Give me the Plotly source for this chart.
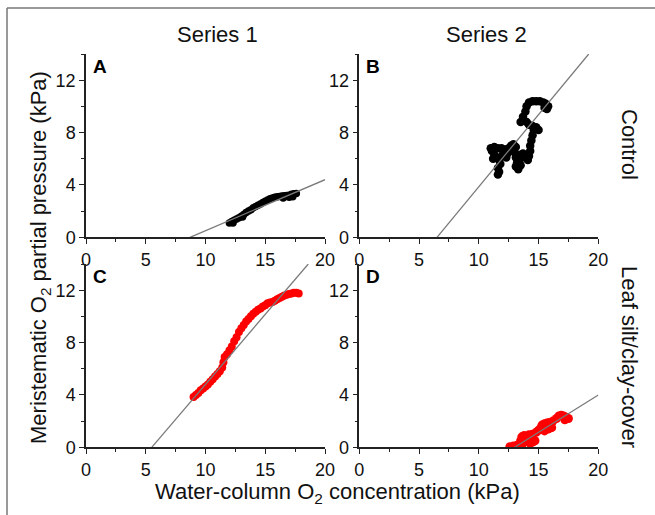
import plotly.graph_objects as go

W, H = 655, 515

# ---------------- data ----------------
# Panel A (Series 1, Control) - black
a_x = [12.0, 12.2, 12.4, 12.6, 12.8, 13.0, 13.2, 13.4, 13.6, 13.8, 14.0, 14.2, 14.4, 14.6,
       14.8, 15.0, 15.2, 15.4, 15.6, 15.8, 16.0, 16.2, 16.4, 16.6, 16.8, 17.0, 17.2, 17.4,
       17.6, 16.5, 17.0, 17.3, 12.3, 13.1]
a_y = [1.1, 1.2, 1.3, 1.4, 1.5, 1.6, 1.75, 1.9, 2.0, 2.1, 2.25, 2.35, 2.45, 2.55,
       2.65, 2.75, 2.85, 2.95, 3.0, 3.05, 3.1, 3.12, 3.15, 3.18, 3.2, 3.22, 3.28, 3.32,
       3.35, 3.0, 3.05, 3.1, 1.1, 1.55]

# Panel B (Series 2, Control) - black
b_x = [11.6, 11.7, 11.6, 11.8, 11.7, 11.5, 11.3, 11.1, 11.0, 11.3, 11.6, 11.9, 12.2, 12.5,
       12.4, 12.3, 12.5, 12.7, 12.9, 13.1, 13.0, 13.1, 13.2, 13.1, 13.3, 13.5, 13.4, 13.5,
       13.7, 13.9, 14.1, 14.2, 14.3, 14.3, 14.4, 14.5, 14.6, 14.5, 14.2, 14.0, 13.7, 13.5,
       13.7, 13.9, 14.0, 14.2, 14.5, 14.8, 15.1, 15.4, 15.6, 15.8, 15.7, 15.5, 14.8, 15.0,
       11.2, 12.0]
b_y = [4.8, 5.0, 5.3, 5.6, 5.9, 6.1, 6.3, 6.6, 6.8, 6.9, 6.8, 6.8, 6.7, 6.8,
       6.4, 6.1, 6.6, 7.0, 7.1, 6.9, 6.5, 6.1, 5.7, 5.4, 5.2, 5.5, 5.9, 6.3,
       6.4, 6.1, 5.9, 6.2, 6.6, 7.0, 7.4, 7.8, 8.2, 8.5, 8.6, 8.8, 8.9, 8.8,
       9.2, 9.6, 10.0, 10.3, 10.4, 10.4, 10.4, 10.3, 10.2, 10.0, 9.8, 9.9, 8.4, 8.2,
       6.0, 6.3]

# Panel C (Series 1, Leaf silt/clay-cover) - red
c_x = [9.0, 9.2, 9.4, 9.6, 9.8, 10.0, 10.2, 10.4, 10.6, 10.8, 11.0, 11.2, 11.4, 11.5,
       11.6, 11.8, 12.0, 12.2, 12.4, 12.6, 12.8, 13.0, 13.2, 13.4, 13.6, 13.8, 14.0, 14.2,
       14.4, 14.6, 14.8, 15.0, 15.2, 15.4, 15.6, 15.8, 16.0, 16.2, 16.4, 16.6, 16.8, 17.0,
       17.2, 17.4, 17.6, 17.8]
c_y = [3.85, 4.0, 4.15, 4.35, 4.5, 4.65, 4.8, 5.0, 5.2, 5.4, 5.6, 5.8, 6.1, 6.5,
       6.9, 7.1, 7.4, 7.7, 8.1, 8.4, 8.8, 9.1, 9.35, 9.6, 9.8, 10.0, 10.2, 10.35,
       10.5, 10.6, 10.75, 10.85, 11.0, 11.05, 11.1, 11.2, 11.3, 11.4, 11.5, 11.6, 11.65, 11.7,
       11.75, 11.8, 11.8, 11.75]

# Panel D (Series 2, Leaf silt/clay-cover) - red
d_x = [12.6, 12.9, 13.2, 13.5, 13.6, 13.8, 14.0, 14.1, 14.3, 14.5, 14.7, 14.2, 14.5, 14.8,
       15.0, 15.2, 15.3, 15.5, 15.7, 15.9, 16.1, 15.8, 15.5, 16.2, 16.5, 16.7, 16.9, 17.1,
       17.3, 17.5, 17.2, 13.9, 13.7]
d_y = [0.05, 0.1, 0.15, 0.5, 0.8, 0.9, 0.85, 0.5, 0.3, 0.4, 0.5, 0.95, 1.0, 1.15,
       1.3, 1.5, 1.7, 1.8, 1.85, 1.9, 1.5, 1.4, 1.25, 2.0, 2.2, 2.4, 2.45, 2.4,
       2.3, 2.2, 2.1, 0.55, 0.3]

# regression line end points (x, y) per panel
fit_a_x, fit_a_y = [8.7, 20.0], [0.0, 4.4]
fit_b_x, fit_b_y = [6.5, 19.2], [0.0, 14.0]
fit_c_x, fit_c_y = [5.5, 18.6], [0.0, 14.0]
fit_d_x, fit_d_y = [13.0, 20.0], [0.0, 4.0]

panel_letters = ["A", "B", "C", "D"]
col_titles = ["Series 1", "Series 2"]
row_titles = ["Control", "Leaf silt/clay-cover"]
x_title = "Water-column O<sub>2</sub> concentration (kPa)"
y_title = "Meristematic O<sub>2</sub> partial pressure (kPa)"
x_ticks = [0, 5, 10, 15, 20]
y_ticks = [0, 4, 8, 12]

# ---------------- layout helpers ----------------
def px_x(p):
    return p / W

def px_y(p):
    return 1 - p / H

col_dom = [[px_x(86), px_x(325)], [px_x(359.3), px_x(598.3)]]
row_dom = [[px_y(237.3), px_y(54)], [px_y(447.3), px_y(264)]]

FONT = "Liberation Sans, Arial, Helvetica, sans-serif"

fig = go.Figure()

panels = [
    (a_x, a_y, fit_a_x, fit_a_y, "black", 7.5),
    (b_x, b_y, fit_b_x, fit_b_y, "black", 8.5),
    (c_x, c_y, fit_c_x, fit_c_y, "#ff0000", 8),
    (d_x, d_y, fit_d_x, fit_d_y, "#ff0000", 9),
]

for i, (xs, ys, fx, fy, col, ms) in enumerate(panels):
    n = i + 1
    xa = "x" if n == 1 else f"x{n}"
    ya = "y" if n == 1 else f"y{n}"
    fig.add_trace(go.Scatter(x=xs, y=ys, mode="markers", xaxis=xa, yaxis=ya,
                             marker=dict(color=col, size=ms, line=dict(width=0)),
                             showlegend=False, hoverinfo="skip"))
    fig.add_trace(go.Scatter(x=fx, y=fy, mode="lines", xaxis=xa, yaxis=ya,
                             line=dict(color="#7a7a7a", width=1.3),
                             showlegend=False, hoverinfo="skip"))
    r, c = divmod(i, 2)
    axis_common = dict(showline=True, linecolor="#222", linewidth=1.5, showgrid=False,
                       zeroline=False, ticks="outside", ticklen=5, tickwidth=1.3,
                       tickcolor="#222", tickfont=dict(family=FONT, size=18, color="#111"),
                       fixedrange=True, automargin=False)
    fig.layout[("xaxis" if n == 1 else f"xaxis{n}")] = dict(
        domain=col_dom[c], anchor=ya, range=[0, 20], tickvals=x_ticks,
        minor=dict(dtick=2.5, tick0=0, ticks="outside", ticklen=3, tickwidth=1.2,
                   tickcolor="#222"),
        **axis_common)
    fig.layout[("yaxis" if n == 1 else f"yaxis{n}")] = dict(
        domain=row_dom[r], anchor=xa, range=[0, 14], tickvals=y_ticks,
        minor=dict(dtick=2, tick0=0, ticks="outside", ticklen=3, tickwidth=1.2,
                   tickcolor="#222"),
        **axis_common)
    fig.add_annotation(text=f"<b>{panel_letters[i]}</b>", xref=f"{xa} domain",
                       yref=f"{ya} domain", x=0.02, y=1.0, xanchor="left",
                       yanchor="top", showarrow=False,
                       font=dict(family=FONT, size=19, color="black"))

ann_font = dict(family=FONT, size=22, color="#111")
fig.add_annotation(text=col_titles[0], x=px_x(217), y=px_y(35), xref="paper", yref="paper",
                   showarrow=False, font=ann_font, xanchor="center", yanchor="middle")
fig.add_annotation(text=col_titles[1], x=px_x(486), y=px_y(35), xref="paper", yref="paper",
                   showarrow=False, font=ann_font, xanchor="center", yanchor="middle")
fig.add_annotation(text=row_titles[0], x=px_x(630), y=px_y(144), xref="paper", yref="paper",
                   showarrow=False, font=ann_font, textangle=90,
                   xanchor="center", yanchor="middle")
fig.add_annotation(text=row_titles[1], x=px_x(630), y=px_y(357), xref="paper", yref="paper",
                   showarrow=False, font=ann_font, textangle=90,
                   xanchor="center", yanchor="middle")
fig.add_annotation(text=x_title, x=px_x(338), y=px_y(493), xref="paper", yref="paper",
                   showarrow=False, font=ann_font, xanchor="center", yanchor="middle")
fig.add_annotation(text=y_title, x=px_x(40), y=px_y(258), xref="paper", yref="paper",
                   showarrow=False, font=ann_font, textangle=-90,
                   xanchor="center", yanchor="middle")

# outer frame lines (top and left)
fig.add_shape(type="line", xref="paper", yref="paper", x0=px_x(7), x1=1.0,
              y0=px_y(8), y1=px_y(8), line=dict(color="#777", width=1.5))
fig.add_shape(type="line", xref="paper", yref="paper", x0=px_x(7), x1=px_x(7),
              y0=0.0, y1=px_y(8), line=dict(color="#777", width=1.5))

fig.update_layout(width=W, height=H, autosize=False,
                  margin=dict(l=0, r=0, t=0, b=0),
                  paper_bgcolor="white", plot_bgcolor="white",
                  font=dict(family=FONT))

# remove the browser's default page margin so the figure sits at the window origin
fig.write_html("out.html",
               config={"displayModeBar": False},
               post_script="document.body.style.margin='0px';document.body.style.padding='0px';")
